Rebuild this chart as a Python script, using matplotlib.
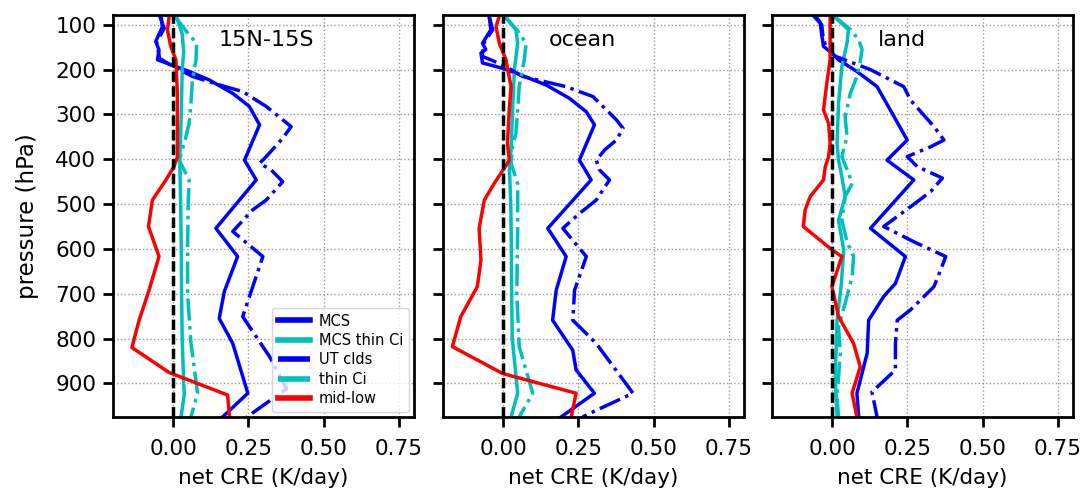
import numpy as np
import matplotlib
matplotlib.use('Agg')
import matplotlib.pyplot as plt

# Panel titles
regions = ['15N-15S', 'ocean', 'land']
labels = ['MCS', 'MCS thin Ci', 'UT clds', 'thin Ci', 'mid-low']

#### 15N-15S ####
p_mcs_all = [80, 105, 137, 156, 178, 193, 204, 223, 253, 282, 323, 402, 446, 554, 617, 695, 755, 811, 922, 975]
x_mcs_all = [-0.04, -0.036, -0.058, -0.047, -0.052, 0.009, 0.053, 0.12, 0.198, 0.253, 0.287, 0.237, 0.276,
             0.142, 0.214, 0.17, 0.153, 0.198, 0.248, 0.164]
p_mct_all = [80, 120, 160, 200, 300, 400, 500, 600, 700, 800, 900, 925, 975]
x_mct_all = [0.01, 0.03, 0.035, 0.03, 0.027, 0.022, 0.025, 0.027, 0.028, 0.03, 0.035, 0.037, 0.026]
p_utc_all = [80, 108, 138, 175, 195, 215, 234, 249, 282, 327, 353, 394, 409, 424, 450, 491, 513, 561, 617,
             751, 840, 912, 975]
x_utc_all = [-0.045, -0.03, -0.055, -0.045, 0.005, 0.064, 0.153, 0.231, 0.309, 0.392, 0.364, 0.309, 0.287,
             0.326, 0.364, 0.309, 0.264, 0.198, 0.298, 0.231, 0.32, 0.377, 0.245]
p_thn_all = [80, 120, 141, 178, 223, 275, 320, 364, 402, 446, 500, 600, 700, 810, 922, 975]
x_thn_all = [0.005, 0.05, 0.078, 0.076, 0.064, 0.059, 0.053, 0.037, 0.02, 0.053, 0.05, 0.048, 0.048, 0.059,
             0.081, 0.059]
p_low_all = [80, 111, 148, 178, 253, 327, 394, 416, 446, 491, 550, 617, 692, 759, 820, 876, 926, 975]
x_low_all = [-0.013, -0.019, -0.008, 0.009, 0.014, 0.014, 0.014, 0.003, -0.024, -0.069, -0.082, -0.047,
             -0.08, -0.113, -0.137, -0.013, 0.181, 0.187]

#### ocean ####
p_mcs_oce = [80, 111, 141, 155, 163, 185, 197, 212, 234, 264, 294, 323, 402, 446, 554, 617, 692, 759, 826,
             870, 922, 975]
x_mcs_oce = [-0.047, -0.041, -0.069, -0.058, -0.074, -0.069, -0.002, 0.059, 0.142, 0.22, 0.276, 0.303,
             0.253, 0.292, 0.148, 0.209, 0.176, 0.164, 0.231, 0.242, 0.303, 0.192]
p_mct_oce = [80, 111, 141, 200, 290, 379, 409, 500, 600, 700, 800, 922, 975]
x_mct_oce = [0.003, 0.042, 0.048, 0.037, 0.031, 0.026, 0.02, 0.025, 0.027, 0.028, 0.03, 0.048, 0.026]
p_utc_oce = [80, 111, 141, 170, 190, 215, 238, 260, 312, 331, 357, 379, 402, 424, 446, 491, 521, 554, 617,
             692, 759, 811, 922, 967, 975]
x_utc_oce = [-0.047, -0.035, -0.065, -0.07, 0.0, 0.064, 0.209, 0.298, 0.376, 0.398, 0.376, 0.337, 0.309,
             0.32, 0.353, 0.309, 0.253, 0.198, 0.276, 0.237, 0.231, 0.309, 0.431, 0.287, 0.264]
p_thn_oce = [80, 111, 141, 178, 238, 290, 342, 372, 409, 454, 550, 700, 818, 922, 975]
x_thn_oce = [0.005, 0.045, 0.076, 0.07, 0.053, 0.048, 0.042, 0.031, 0.026, 0.048, 0.048, 0.045, 0.053,
             0.098, 0.053]
p_low_oce = [80, 104, 141, 178, 238, 290, 364, 402, 420, 454, 491, 554, 625, 684, 751, 818, 878, 922, 975]
x_low_oce = [-0.013, -0.024, -0.013, 0.009, 0.026, 0.02, 0.014, 0.02, 0.003, -0.03, -0.063, -0.08, -0.074,
             -0.086, -0.141, -0.169, -0.002, 0.242, 0.226]

#### land ####
p_mcs_lnd = [80, 96, 126, 148, 163, 178, 204, 238, 290, 357, 402, 446, 554, 617, 677, 706, 759, 833, 922, 975]
x_mcs_lnd = [-0.062, -0.04, -0.034, -0.029, -0.001, 0.021, 0.082, 0.149, 0.193, 0.249, 0.182, 0.271, 0.127,
             0.243, 0.21, 0.171, 0.121, 0.116, 0.082, 0.088]
p_mct_lnd = [80, 111, 141, 193, 275, 364, 402, 439, 483, 536, 602, 680, 759, 885, 975]
x_mct_lnd = [0.004, 0.054, 0.049, 0.032, 0.021, 0.016, 0.021, 0.032, 0.043, 0.021, 0.038, 0.03, 0.016,
             0.01, 0.016]
p_utc_lnd = [80, 100, 130, 150, 170, 200, 238, 268, 327, 357, 372, 394, 416, 442, 472, 506, 550, 584, 617,
             647, 684, 736, 759, 811, 870, 919, 975]
x_utc_lnd = [-0.055, -0.035, -0.03, -0.02, 0.01, 0.127, 0.238, 0.26, 0.338, 0.371, 0.327, 0.249, 0.282,
             0.366, 0.327, 0.26, 0.171, 0.271, 0.377, 0.36, 0.338, 0.26, 0.216, 0.21, 0.21, 0.132, 0.149]
p_thn_lnd = [80, 110, 133, 155, 182, 215, 253, 305, 350, 394, 431, 454, 483, 536, 584, 617, 662, 721, 774,
             833, 885, 930, 975]
x_thn_lnd = [0.005, 0.06, 0.088, 0.099, 0.093, 0.082, 0.06, 0.043, 0.049, 0.032, 0.054, 0.066, 0.043, 0.032,
             0.049, 0.071, 0.066, 0.043, 0.021, 0.027, 0.021, 0.016, 0.021]
p_low_lnd = [80, 178, 230, 290, 320, 364, 394, 416, 446, 483, 513, 550, 602, 617, 684, 751, 811, 863, 922, 975]
x_low_lnd = [-0.007, -0.007, -0.018, -0.029, -0.012, -0.007, -0.012, -0.023, -0.029, -0.073, -0.09, -0.096,
             -0.001, 0.032, -0.001, 0.021, 0.071, 0.093, 0.066, 0.082]

panels = [
    [(x_mcs_all, p_mcs_all), (x_mct_all, p_mct_all), (x_utc_all, p_utc_all), (x_thn_all, p_thn_all), (x_low_all, p_low_all)],
    [(x_mcs_oce, p_mcs_oce), (x_mct_oce, p_mct_oce), (x_utc_oce, p_utc_oce), (x_thn_oce, p_thn_oce), (x_low_oce, p_low_oce)],
    [(x_mcs_lnd, p_mcs_lnd), (x_mct_lnd, p_mct_lnd), (x_utc_lnd, p_utc_lnd), (x_thn_lnd, p_thn_lnd), (x_low_lnd, p_low_lnd)],
]
colors = ['b', 'c', 'b', 'c', 'r']
styles = ['-', '-', '-.', '-.', '-']

fig = plt.figure(figsize=(10.84, 4.96), dpi=100)
lefts = [0.1042, 0.4087, 0.7122]

for i in range(3):
    ax = fig.add_axes([lefts[i], 0.1593, 0.2777, 0.8105])
    ax.grid(True, color='gray', linestyle=':', linewidth=1, alpha=0.8)
    for j, (xx, pp) in enumerate(panels[i]):
        ax.plot(xx, pp, color=colors[j], linestyle=styles[j], linewidth=2.5, label=labels[j])
    ax.axvline(0, color='k', linestyle=(0, (3, 1.2)), linewidth=2.5)
    ax.text(0.15, 133, regions[i], fontsize=16, ha='left', va='center')

    ax.set_xlim(-0.2, 0.8)
    ax.set_ylim(975, 78)
    ax.set_xticks([0, 0.25, 0.5, 0.75])
    ax.set_xticklabels(['0.00', '0.25', '0.50', '0.75'])
    ax.set_yticks(np.arange(100, 1000, 100))
    ax.tick_params(axis='both', direction='out', length=7, width=2, labelsize=15.5)
    ax.tick_params(axis='x', pad=9)
    ax.tick_params(axis='y', pad=5)
    for s in ax.spines.values():
        s.set_linewidth(2)
    ax.set_xlabel('net CRE (K/day)', fontsize=15.5, labelpad=6)
    if i == 0:
        ax.set_ylabel('pressure (hPa)', fontsize=16.5, labelpad=12)
        leg = ax.legend(loc='lower right', fontsize=10.5, borderaxespad=0.35, handlelength=2.2,
                        handletextpad=0.6, labelspacing=0.3)
        for ln in leg.get_lines():
            ln.set_linewidth(4)
    else:
        ax.set_yticklabels([])

fig.savefig('out.png', dpi=100)
